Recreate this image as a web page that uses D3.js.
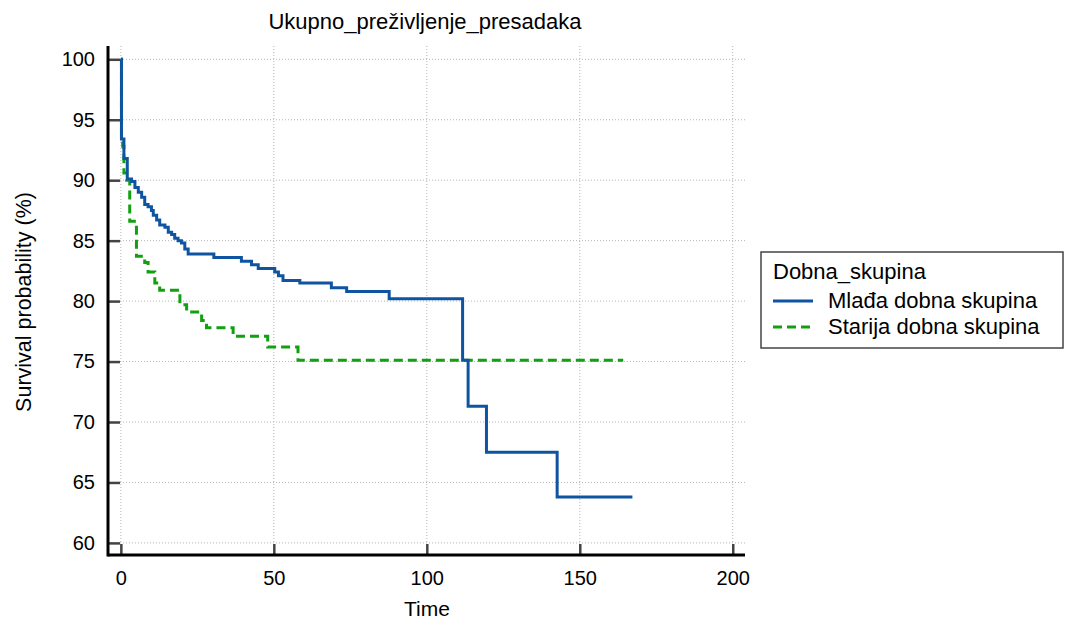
<!DOCTYPE html>
<html>
<head>
<meta charset="utf-8">
<script src="https://cdn.jsdelivr.net/npm/d3@7"></script>
<style>
  body { margin: 0; background: #fff; }
  text { font-family: "Liberation Sans", Arial, sans-serif; fill: #000; }
</style>
</head>
<body>
<div id="chart"></div>
<script>
// Kaplan-Meier steps (time, survival % after the step)
const youngTimes = [0, 0.2, 1.0, 2.1, 3.5, 4.6, 5.7, 6.8, 7.8, 8.9, 10.0, 10.6, 11.7, 12.7, 14.4, 15.5, 16.6, 17.6, 18.7, 19.8, 20.9, 22.0, 30.4, 39.4, 42.7, 44.9, 50.3, 51.5, 53.0, 58.5, 68.8, 73.8, 87.7, 111.7, 113.5, 119.5, 142.6, 167.2];
const youngSurv = [100, 93.4, 91.8, 90.1, 89.9, 89.4, 89.0, 88.6, 88.0, 87.8, 87.5, 87.1, 86.7, 86.3, 86.1, 85.7, 85.5, 85.2, 85.0, 84.8, 84.3, 83.9, 83.6, 83.3, 83.0, 82.7, 82.4, 82.1, 81.7, 81.5, 81.1, 80.8, 80.2, 75.1, 71.3, 67.5, 63.8, 63.8];

const oldTimes = [0, 0.2, 0.6, 1.0, 1.9, 2.9, 5.1, 7.8, 8.9, 11.1, 12.7, 19.3, 21.5, 26.4, 28.0, 36.7, 48.0, 57.9, 164.2];
const oldSurv = [100, 93.3, 92.8, 90.6, 90.0, 86.6, 83.7, 83.2, 82.4, 81.5, 80.9, 79.7, 79.1, 78.4, 77.8, 77.1, 76.2, 75.1, 75.1];

const xTicks = [0, 50, 100, 150, 200];
const yTicks = [60, 65, 70, 75, 80, 85, 90, 95, 100];

const groupNames = ["Mlađa dobna skupina", "Starija dobna skupina"];
const groupColors = ["#0f54a0", "#12a012"];

const width = 1066, height = 619;
const plot = { left: 108, right: 745, top: 46, bottom: 555 };

const svg = d3.select("#chart")
  .append("svg")
  .attr("width", width)
  .attr("height", height);

const x = d3.scaleLinear().domain([-4.2, 204]).range([plot.left, plot.right]);
const y = d3.scaleLinear().domain([59, 101.1]).range([plot.bottom, plot.top]);

// grid
svg.append("g")
  .selectAll("line")
  .data(yTicks)
  .join("line")
  .attr("x1", plot.left).attr("x2", plot.right)
  .attr("y1", (d) => y(d)).attr("y2", (d) => y(d))
  .attr("stroke", "#b4b4b4").attr("stroke-width", 1)
  .attr("stroke-dasharray", "1,2");
svg.append("g")
  .selectAll("line")
  .data(xTicks)
  .join("line")
  .attr("x1", (d) => x(d)).attr("x2", (d) => x(d))
  .attr("y1", plot.top).attr("y2", plot.bottom)
  .attr("stroke", "#b4b4b4").attr("stroke-width", 1)
  .attr("stroke-dasharray", "1,2");

// axes
const xAxis = svg.append("g")
  .attr("transform", `translate(0, ${plot.bottom})`)
  .call(d3.axisBottom(x).tickValues(xTicks).tickSize(-11).tickPadding(16));
const yAxis = svg.append("g")
  .attr("transform", `translate(${plot.left}, 0)`)
  .call(d3.axisLeft(y).tickValues(yTicks).tickSize(-12).tickPadding(13));

[xAxis, yAxis].forEach((a) => {
  a.select(".domain").remove();
  a.selectAll(".tick line").attr("stroke", "#444").attr("stroke-width", 2.5);
  a.selectAll(".tick text")
    .style("font-family", '"Liberation Sans", Arial, sans-serif')
    .style("font-size", "20px")
    .attr("fill", "#000");
});

svg.append("line")
  .attr("x1", plot.left).attr("x2", plot.right)
  .attr("y1", plot.bottom).attr("y2", plot.bottom)
  .attr("stroke", "#000").attr("stroke-width", 3);
svg.append("line")
  .attr("x1", plot.left).attr("x2", plot.left)
  .attr("y1", plot.top).attr("y2", plot.bottom + 1.5)
  .attr("stroke", "#000").attr("stroke-width", 3);

// curves
const line = d3.line()
  .x((d) => x(d[0]))
  .y((d) => y(d[1]))
  .curve(d3.curveStepAfter);

svg.append("path")
  .datum(oldTimes.map((t, i) => [t, oldSurv[i]]))
  .attr("d", line)
  .attr("fill", "none")
  .attr("stroke", groupColors[1])
  .attr("stroke-width", 3)
  .attr("stroke-dasharray", "9,5");

svg.append("path")
  .datum(youngTimes.map((t, i) => [t, youngSurv[i]]))
  .attr("d", line)
  .attr("fill", "none")
  .attr("stroke", groupColors[0])
  .attr("stroke-width", 3);

// titles
svg.append("text")
  .attr("x", 425).attr("y", 29)
  .attr("text-anchor", "middle")
  .style("font-size", "22px")
  .text("Ukupno_preživljenje_presadaka");

svg.append("text")
  .attr("x", 427).attr("y", 616)
  .attr("text-anchor", "middle")
  .style("font-size", "21px")
  .text("Time");

svg.append("text")
  .attr("transform", "translate(31, 302) rotate(-90)")
  .attr("text-anchor", "middle")
  .style("font-size", "21.5px")
  .text("Survival probability (%)");

// legend
const legend = svg.append("g").attr("transform", "translate(761, 252)");
legend.append("rect")
  .attr("width", 302).attr("height", 96)
  .attr("fill", "#fff")
  .attr("stroke", "#444").attr("stroke-width", 1.5);
legend.append("text")
  .attr("x", 12).attr("y", 27)
  .style("font-size", "22px")
  .text("Dobna_skupina");
groupNames.forEach((name, i) => {
  const yy = 49 + i * 26;
  legend.append("line")
    .attr("x1", 12).attr("x2", 52)
    .attr("y1", yy).attr("y2", yy)
    .attr("stroke", groupColors[i])
    .attr("stroke-width", 3)
    .attr("stroke-dasharray", i === 1 ? "9,5" : null);
  legend.append("text")
    .attr("x", 67).attr("y", yy + 7)
    .style("font-size", "22px")
    .text(name);
});
</script>
</body>
</html>
